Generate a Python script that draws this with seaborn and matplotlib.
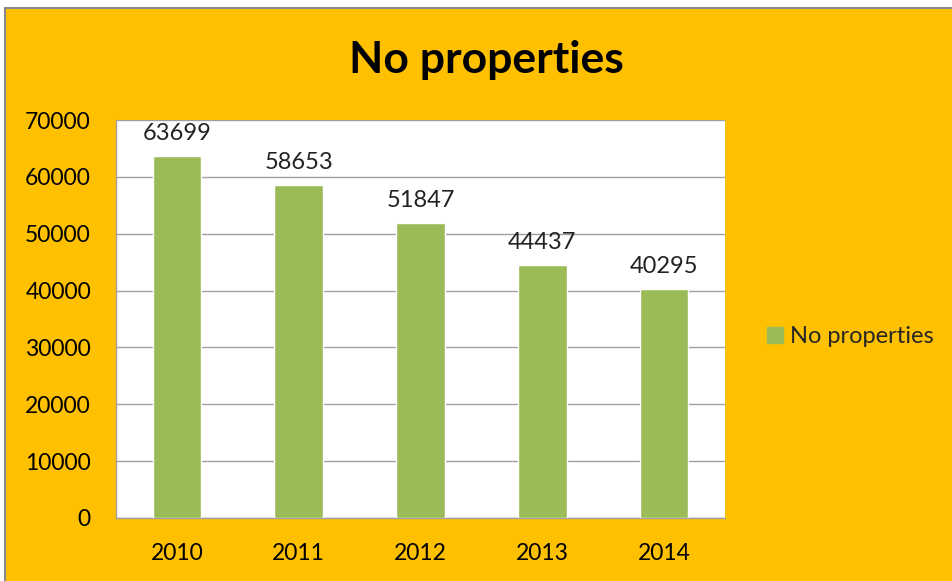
import pandas as pd
import seaborn as sns
import matplotlib.pyplot as plt
from matplotlib.patches import Rectangle
from matplotlib.lines import Line2D

# Data
years = ['2010', '2011', '2012', '2013', '2014']
no_properties = [63699, 58653, 51847, 44437, 40295]
series_name = 'No properties'

df = pd.DataFrame({'year': years, 'value': no_properties})

sns.set_style('white')
plt.rcParams['font.family'] = ['Lato', 'DejaVu Sans']

orange = '#FFC000'
green = '#9BBB59'
grey = '#A0A0A0'

fig = plt.figure(figsize=(9.53, 5.81), dpi=100, facecolor='white')
# chart area background with thin border
fig.patches.append(Rectangle((5 / 953, -0.01), 1.0, (581 - 8) / 581 + 0.01,
                             transform=fig.transFigure, facecolor=orange,
                             edgecolor='#888888', linewidth=1.5, zorder=-10))

ax = fig.add_axes([116 / 953, 1 - 518 / 581, (725 - 116) / 953, (518 - 120) / 581])
ax.set_facecolor('white')

sns.barplot(data=df, x='year', y='value', color=green, width=0.4,
            saturation=1, ax=ax, zorder=3)

ax.set_ylim(0, 70000)
ax.set_yticks(range(0, 70001, 10000))
ax.set_xlim(-0.5, 4.5)
ax.set_xlabel('')
ax.set_ylabel('')
ax.grid(axis='y', color=grey, linewidth=1, zorder=0)
ax.set_axisbelow(True)

for s in ['top', 'right']:
    ax.spines[s].set_visible(False)
for s in ['left', 'bottom']:
    ax.spines[s].set_color(grey)
    ax.spines[s].set_linewidth(1)

# tick marks between categories on the x axis
ax.set_xticks(range(5))
ax.set_xticklabels(years)
ax.tick_params(axis='x', length=0, labelsize=16.5, pad=18, colors='black')
ax.set_xticks([i - 0.5 for i in range(6)], minor=True)
ax.tick_params(axis='x', which='minor', length=7, color=grey, width=1, direction='out')
ax.tick_params(axis='y', length=7, color=grey, width=1, direction='out',
               labelsize=16.5, pad=11, colors='black')
ax.tick_params(axis='y', labelcolor='black')

# value labels
for i, v in enumerate(no_properties):
    ax.text(i, v + 2100, str(v), ha='center', va='bottom', fontsize=17, color='#222222')

fig.text(486 / 953, 1 - 60 / 581, 'No properties', ha='center', va='center',
         fontsize=32, fontweight='bold', color='black')

handle = Line2D([], [], marker='s', linestyle='', markersize=11,
                markerfacecolor=green, markeredgecolor=green)
fig.legend([handle], [series_name], loc='center left',
           bbox_to_anchor=(742 / 953, 1 - 337 / 581), frameon=False,
           fontsize=17, handletextpad=0.15, handlelength=1.0)

fig.savefig('out.png', dpi=100, facecolor=fig.get_facecolor())
